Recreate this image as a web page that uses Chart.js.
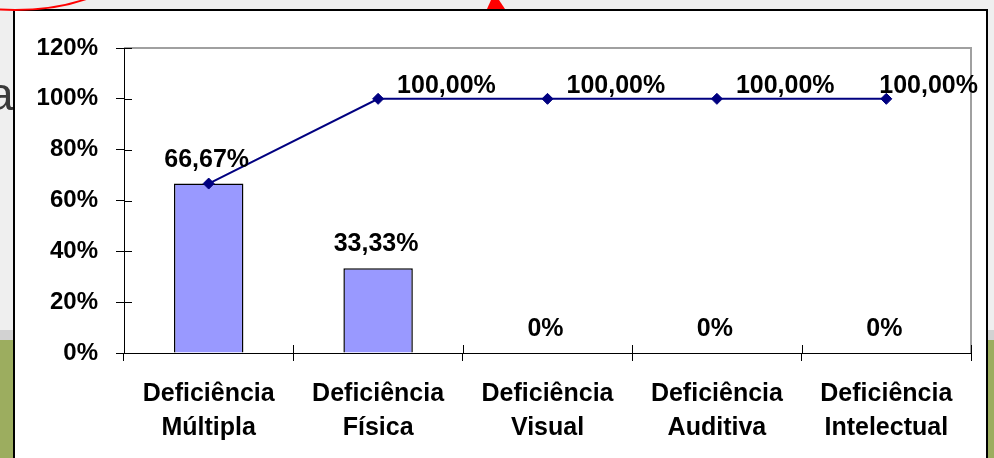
<!DOCTYPE html>
<html>
<head>
<meta charset="utf-8">
<script src="https://cdn.jsdelivr.net/npm/chart.js@4.4.1/dist/chart.umd.min.js"></script>
<style>
  html, body { margin: 0; padding: 0; background: #eeeeee; }
  #wrap { width: 994px; height: 458px; }
</style>
</head>
<body>
<div id="wrap"><canvas id="grafico" width="994" height="458"></canvas></div>
<script>
// dados
const categorias = [
  ['Deficiência', 'Múltipla'],
  ['Deficiência', 'Física'],
  ['Deficiência', 'Visual'],
  ['Deficiência', 'Auditiva'],
  ['Deficiência', 'Intelectual']
];
const valoresBarra = [66.67, 33.33, 0, 0, 0];
const valoresLinha = [66.67, 100, 100, 100, 100];
const eixoY = { min: 0, max: 120, passo: 20 };

const fonteNegrito = "'Liberation Sans', Arial, sans-serif";

function formatar(v) {
  if (v === 0) return '0%';
  return v.toFixed(2).replace('.', ',') + '%';
}

// fundo do slide + moldura do gráfico
const fundo = {
  id: 'fundo',
  beforeDraw(chart) {
    const ctx = chart.ctx;
    const W = chart.width, H = chart.height;
    ctx.save();
    ctx.fillStyle = '#efefef';
    ctx.fillRect(0, 0, W, H);
    ctx.fillStyle = '#d2d2d2';
    ctx.fillRect(0, 330, W, 10);
    ctx.fillStyle = '#9cad5f';
    ctx.fillRect(0, 340, W, H - 340);

    // letra do slide por trás
    ctx.fillStyle = '#3a3a3a';
    ctx.font = "46px 'Liberation Sans', Arial, sans-serif";
    ctx.textBaseline = 'alphabetic';
    ctx.fillText('a', -12, 110);

    // caixa branca
    ctx.fillStyle = '#ffffff';
    ctx.fillRect(14, 10, 973, H);
    ctx.strokeStyle = '#000000';
    ctx.lineWidth = 2;
    ctx.beginPath();
    ctx.moveTo(14, H + 2);
    ctx.lineTo(14, 10);
    ctx.lineTo(987, 10);
    ctx.lineTo(987, H + 2);
    ctx.stroke();

    // elipse vermelha e seta
    ctx.strokeStyle = '#ff0000';
    ctx.lineWidth = 2;
    ctx.beginPath();
    ctx.ellipse(15, -50, 123, 60, 0, 0, Math.PI);
    ctx.stroke();
    ctx.fillStyle = '#ff0000';
    ctx.beginPath();
    ctx.moveTo(491, 0);
    ctx.lineTo(499, 0);
    ctx.lineTo(505, 9);
    ctx.lineTo(487, 9);
    ctx.closePath();
    ctx.fill();

    // borda cinza da área de plotagem
    const a = chart.chartArea;
    ctx.strokeStyle = '#a0a0a0';
    ctx.lineWidth = 2;
    ctx.beginPath();
    ctx.moveTo(a.left, a.top);
    ctx.lineTo(a.right, a.top);
    ctx.lineTo(a.right, a.bottom);
    ctx.stroke();
    ctx.restore();
  },
  afterDraw(chart) {
    const ctx = chart.ctx;
    const x = chart.scales.x, y = chart.scales.y;
    const a = chart.chartArea;
    ctx.save();
    ctx.strokeStyle = '#000000';
    ctx.lineWidth = 1;
    ctx.beginPath();
    // metade interna das marcas (cruzadas)
    y.ticks.forEach(t => {
      const py = Math.round(y.getPixelForValue(t.value)) + 0.5;
      ctx.moveTo(a.left, py);
      ctx.lineTo(a.left + 8, py);
    });
    for (let i = 0; i <= categorias.length; i++) {
      const px = Math.round(x.getPixelForValue(i - 0.5)) + 0.5;
      ctx.moveTo(px, a.bottom - 8);
      ctx.lineTo(px, a.bottom);
    }
    ctx.stroke();

    // rótulos de dados
    ctx.fillStyle = '#000000';
    ctx.font = 'bold 25px ' + fonteNegrito;
    ctx.textBaseline = 'alphabetic';
    const barras = chart.getDatasetMeta(1).data;
    const pontos = chart.getDatasetMeta(0).data;
    ctx.textAlign = 'center';
    barras.forEach((b, i) => {
      ctx.fillText(formatar(valoresBarra[i]), b.x - 2, b.y - 17);
    });
    ctx.textAlign = 'left';
    pontos.forEach((p, i) => {
      if (valoresLinha[i] === valoresBarra[i]) return;
      const txt = formatar(valoresLinha[i]);
      const w = ctx.measureText(txt).width;
      let left = p.x + 19;
      if (left + w > 978) left = 978 - w;
      ctx.fillText(txt, left, p.y - 6);
    });
    ctx.restore();
  }
};

new Chart(document.getElementById('grafico'), {
  type: 'bar',
  data: {
    labels: categorias,
    datasets: [
      {
        type: 'line',
        data: valoresLinha,
        borderColor: '#000080',
        borderWidth: 2,
        pointStyle: 'rectRot',
        pointRadius: 5.5,
        pointBackgroundColor: '#000080',
        pointBorderColor: '#000080',
        pointBorderWidth: 1,
        tension: 0,
        order: 0
      },
      {
        type: 'bar',
        data: valoresBarra,
        backgroundColor: '#9999ff',
        borderColor: '#000000',
        borderWidth: 1.5,
        barPercentage: 0.41,
        categoryPercentage: 1,
        order: 1
      }
    ]
  },
  options: {
    responsive: false,
    animation: false,
    devicePixelRatio: 1,
    layout: { padding: { left: 0, top: 48, right: 23, bottom: 0 } },
    plugins: {
      legend: { display: false },
      tooltip: { enabled: false }
    },
    scales: {
      x: {
        offset: true,
        grid: { offset: true, drawOnChartArea: false, drawTicks: true, tickLength: 8, color: '#000000' },
        border: { color: '#000000', width: 1 },
        ticks: {
          autoSkip: false,
          maxRotation: 0,
          padding: 16,
          color: '#000000',
          font: { family: fonteNegrito, size: 25, weight: 'bold', lineHeight: 1.35 }
        },
        afterFit(scale) { scale.height = 105; }
      },
      y: {
        min: eixoY.min,
        max: eixoY.max,
        grid: { drawOnChartArea: false, drawTicks: true, tickLength: 8, color: '#000000' },
        border: { color: '#000000', width: 1 },
        ticks: {
          stepSize: eixoY.passo,
          padding: 18,
          color: '#000000',
          font: { family: fonteNegrito, size: 24, weight: 'bold' },
          callback: v => v + '%'
        },
        afterFit(scale) { scale.width = 124; }
      }
    }
  },
  plugins: [fundo]
});
</script>
</body>
</html>
